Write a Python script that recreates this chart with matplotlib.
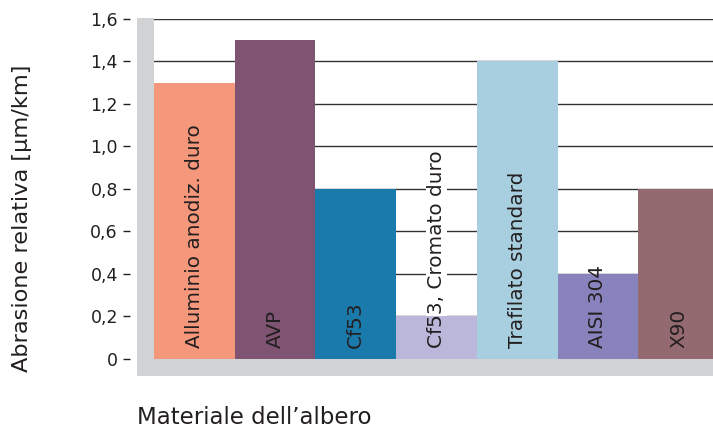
import matplotlib.pyplot as plt
from matplotlib.patches import Rectangle

plt.rcParams['font.family'] = ['DejaVu Sans']

materials = ["Alluminio anodiz. duro", "AVP", "Cf53", "Cf53, Cromato duro",
             "Trafilato standard", "AISI 304", "X90"]
abrasion = [1.3, 1.5, 0.8, 0.2, 1.4, 0.4, 0.8]
colors = ["#F4977A", "#7F5472", "#1A7AAB", "#BBB7DB",
          "#A8CFE0", "#8883BD", "#936A70"]
yticks = [0, 0.2, 0.4, 0.6, 0.8, 1.0, 1.2, 1.4, 1.6]
yticklabels = ["0", "0,2", "0,4", "0,6", "0,8", "1,0", "1,2", "1,4", "1,6"]

W, H = 713, 432
fig = plt.figure(figsize=(W / 100, H / 100), dpi=100)

# plot box in pixels: bars start at x=154, zero line at y=358.5, 1.6 at y=19
x0, x1 = 154, 719
y0, y1 = 358.5, 19
ax = fig.add_axes([x0 / W, (H - y0) / H, (x1 - x0) / W, (y0 - y1) / H])

n = len(materials)
xs = range(n)
ax.bar(xs, abrasion, width=1.0, color=colors, zorder=2, linewidth=0)
ax.set_xlim(-0.5, n - 0.5)
ax.set_ylim(0, 1.6)

for v in yticks[1:]:
    ax.axhline(v, color="#333333", lw=1.0, zorder=1)

txt = "#231F20"
for i, (name, val) in enumerate(zip(materials, abrasion)):
    if val < 0.3:
        # white patch hides grid lines behind text sticking out of the bar
        ax.text(i, 0.05, name, rotation=90, ha="center", va="bottom",
                fontsize=14.4, color="white", zorder=1.5,
                bbox=dict(facecolor="white", edgecolor="none", pad=1))
    ax.text(i, 0.05, name, rotation=90, ha="center", va="bottom",
            fontsize=14.4, color=txt, zorder=3)

# grey floor and wall
grey = "#D1D2D4"
fig.add_artist(Rectangle((137 / W, (H - 376) / H), (W - 137) / W, 17.5 / H,
                         transform=fig.transFigure, color=grey, lw=0, zorder=0))
fig.add_artist(Rectangle((137 / W, (H - 376) / H), 17 / W, (376 - 18) / H,
                         transform=fig.transFigure, color=grey, lw=0, zorder=0))

for s in ax.spines.values():
    s.set_visible(False)
ax.spines["left"].set_position(("outward", 17))
ax.set_xticks([])
ax.set_yticks(yticks)
ax.set_yticklabels(yticklabels)
ax.tick_params(axis="y", length=5, width=1, color=txt, pad=4,
               labelsize=12.5, labelcolor=txt)

fig.text(22 / W, (H - 218) / H, "Abrasione relativa [µm/km]", rotation=90,
         ha="center", va="center", fontsize=16.2, color=txt)
fig.text(137 / W, (H - 417) / H, "Materiale dell\u2019albero",
         ha="left", va="center", fontsize=16.5, color=txt)

fig.savefig("out.png", dpi=100)
